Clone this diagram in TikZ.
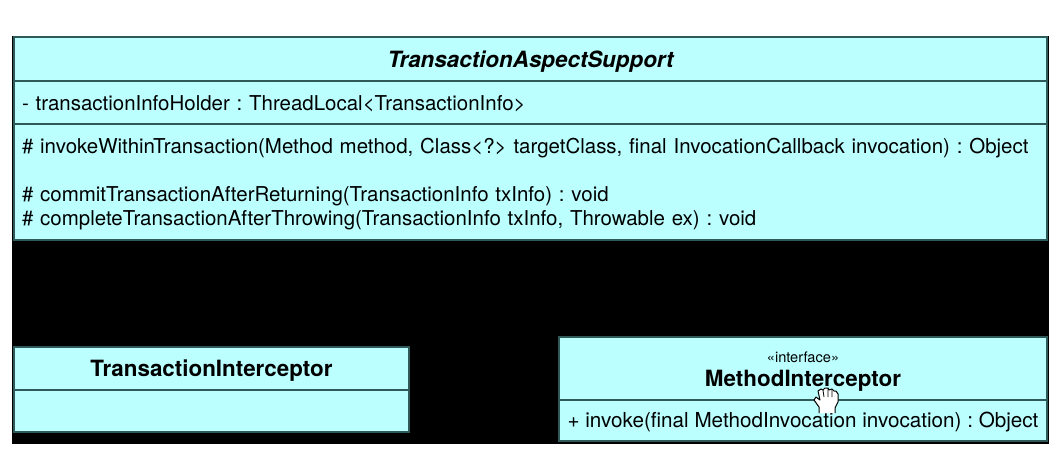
\documentclass[tikz,border=0pt]{standalone}
\usepackage{fontspec}
\setmainfont{TeX Gyre Heros}
\usetikzlibrary{positioning}
\definecolor{boxfill}{HTML}{BBFFFF}
\definecolor{boxline}{HTML}{2F5A5A}
\tikzset{
  compart/.style={draw=boxline,fill=boxfill,line width=1.2pt,inner sep=0pt,outer sep=0pt,
    minimum height=#1,align=left,text height=19pt,font=\fontsize{20.47}{24}\selectfont\frenchspacing},
  titletext/.style={text height=20pt,font=\fontsize{22.4}{24}\selectfont\bfseries},
}
\begin{document}
\begin{tikzpicture}[x=1pt,y=-1pt]
  \useasboundingbox (0,0) rectangle (1061,461);
  \fill [black] (12,36) rectangle (1049,444);
  % abstract class
  \node [compart=44pt,anchor=north west,minimum width=1033pt,titletext,text height=22pt,font=\fontsize{22.4}{24}\selectfont\bfseries\itshape] (supportname) at (14,37) {TransactionAspectSupport};
  \node [compart=43pt,below=0pt of supportname,minimum width=1033pt,text width=1017pt,text height=17.5pt] (supportattr) {- transactionInfoHolder : ThreadLocal<TransactionInfo>};
  \node [compart=116pt,below=0pt of supportattr,minimum width=1033pt,text width=1017pt] (supportops) {%
    \# invokeWithinTransaction(Method method, Class<?> targetClass, final InvocationCallback invocation) : Object\\[24pt]
    \# commitTransactionAfterReturning(TransactionInfo txInfo) : void\\
    \# completeTransactionAfterThrowing(TransactionInfo txInfo, Throwable ex) : void};
  % subclass
  \node [compart=43pt,anchor=north west,minimum width=395pt,titletext] (intername) at (14,347) {TransactionInterceptor};
  \node [compart=42pt,below=0pt of intername,minimum width=395pt] (interbody) {};
  % interface
  \node [compart=63pt,anchor=north west,minimum width=488pt,titletext,text height=40.5pt,align=center] (methodname) at (559,337) {{\fontsize{14.6}{14}\selectfont\mdseries «interface»}\\[0pt]MethodInterceptor};
  \node [compart=41pt,below=0pt of methodname,minimum width=488pt,font=\fontsize{20.65}{24}\selectfont\frenchspacing] (methodops) {+ invoke(final MethodInvocation invocation) : Object};
  % hand cursor
  \draw [fill=white,line width=1pt,line join=round]
    (819,413) -- (819,407) -- (814,400) -- (816,397) -- (820,400) -- (818,391) -- (821,389)
    -- (823,390) -- (825,388) -- (828,388) -- (829,390) -- (832,389) -- (834,391) -- (836,391)
    -- (838,394) -- (838,402) -- (835,408) -- (835,413);
  \draw [line width=.8pt] (823,390) -- (824,397) (828,388) -- (828,397) (832,389) -- (832,397);
\end{tikzpicture}
\end{document}
